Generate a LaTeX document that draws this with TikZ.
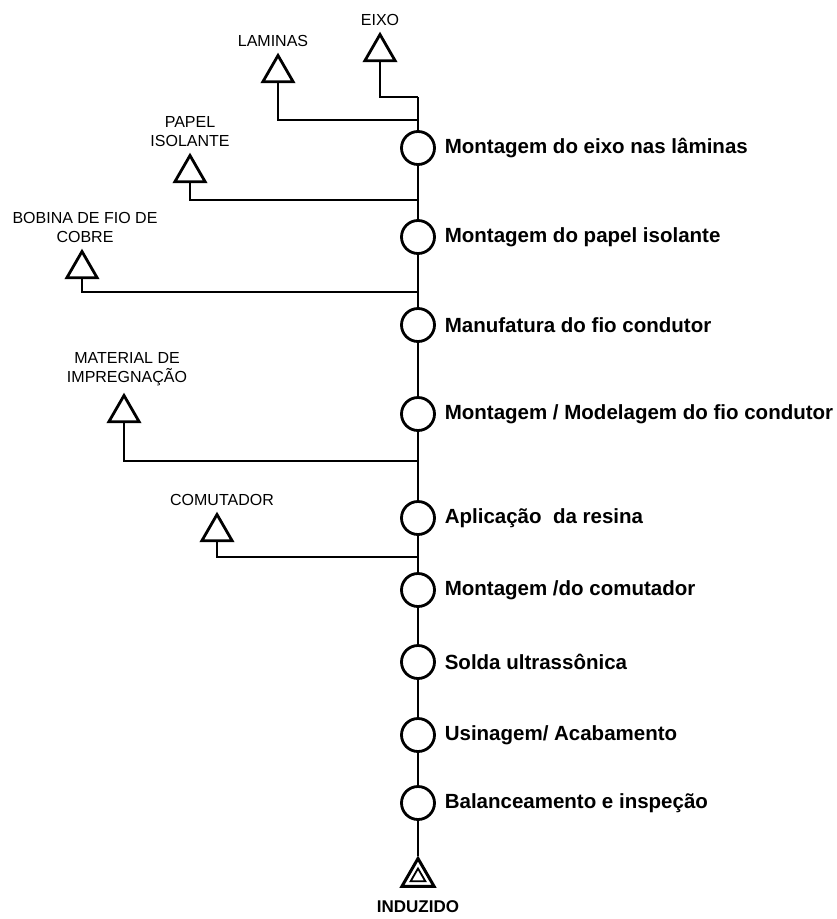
\documentclass[tikz,border=0pt]{standalone}
\usepackage{fontspec}
\setmainfont{Liberation Sans}
\usetikzlibrary{shapes.geometric,positioning}

\begin{document}
\begin{tikzpicture}[x=1pt, y=-1pt, line width=2.8pt,
  op/.style={circle, draw, minimum size=33pt, inner sep=0pt},
  stock/.style={regular polygon, regular polygon sides=3, draw, minimum size=35pt, inner sep=0pt},
  optext/.style={font=\fontsize{20.5}{24}\selectfont\bfseries, inner sep=0pt},
  stocktext/.style={font=\fontsize{16}{19}\selectfont, inner sep=0pt, align=center}]
 \useasboundingbox (0,0) rectangle (836,919);
 % operations on the main line
 \foreach \y/\n/\t in {148/c1/{Montagem do eixo nas lâminas},
                      237/c2/{Montagem do papel isolante},
                      325/c3/{Manufatura do fio condutor},
                      414/c4/{Montagem / Modelagem do fio condutor},
                      518/c5/{Aplicação~ da resina},
                      590/c6/{Montagem /do comutador},
                      662/c7/{Solda ultrassônica},
                      735/c8/{Usinagem/ Acabamento},
                      803/c9/{Balanceamento e inspeção}}
 {
     \node[op](\n) at (418,\y){};
     \node[optext, right=7.5pt of \n](t\n){\t};
 }
 % materials
 \node[stock](eixo) at (380,52){};
 \node[stocktext, above=5pt of eixo](teixo){EIXO};
 \node[stock](lam) at (278,73){};
 \node[stocktext, above=5pt of lam, xshift=-5pt](tlam){LAMINAS};
 \node[stock](pap) at (190,173){};
 \node[stocktext, above=5pt of pap](tpap){PAPEL\\ISOLANTE};
 \node[stock](bob) at (82,269){};
 \node[stocktext, above=5pt of bob, xshift=3pt](tbob){BOBINA DE FIO DE\\COBRE};
 \node[stock](mat) at (124,413){};
 \node[stocktext, above=5pt of mat, xshift=3pt](tmat){MATERIAL DE\\IMPREGNAÇÃO};
 \node[stock](com) at (217,532){};
 \node[stocktext, above=5pt of com, xshift=5pt](tcom){COMUTADOR};
 % product
 \node[stock, minimum size=37pt, line width=3pt](ind) at (418,877){};
 \node[regular polygon, regular polygon sides=3, draw, minimum size=17pt, line width=1.8pt, inner sep=0pt](indin) at (ind.center){};
 \node[font=\fontsize{17}{20}\selectfont\bfseries, inner sep=0pt, below=11pt of ind](tind){INDUZIDO};
 % junctions
 \coordinate (top) at (418,97);
 \coordinate (j1) at (418,120);
 \coordinate (j2) at (418,200);
 \coordinate (j3) at (418,292);
 \coordinate (j4) at (418,461);
 \coordinate (j5) at (418,557);
 \draw(top)--(c1)--(c2)--(c3)--(c4)--(c5)--(c6)--(c7)--(c8)--(c9)--(ind);
 \draw(eixo.south)|-(top);
 \draw(lam.south)|-(j1);
 \draw(pap.south)|-(j2);
 \draw(bob.south)|-(j3);
 \draw(mat.south)|-(j4);
 \draw(com.south)|-(j5);
\end{tikzpicture}
\end{document}
